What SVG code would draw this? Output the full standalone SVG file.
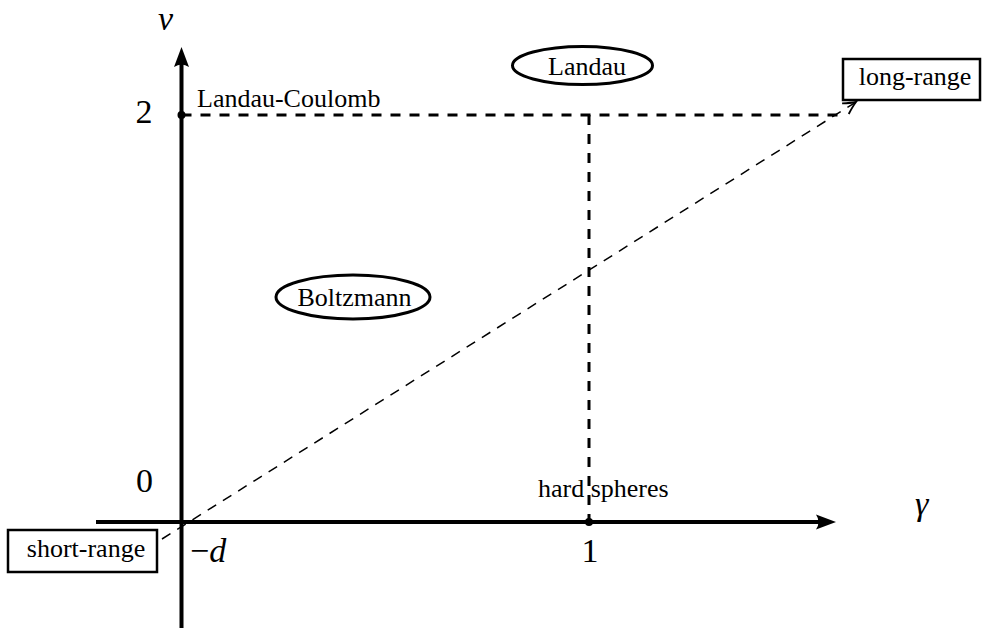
<svg xmlns="http://www.w3.org/2000/svg" width="982" height="628" viewBox="0 0 982 628">
<style>
.txt{font-family:"Liberation Serif","Times New Roman",serif;font-size:26px;fill:#000}
.math{font-family:"Liberation Serif","Times New Roman",serif;font-size:34px;fill:#000}
.it{font-style:italic}
.axis{stroke:#000;stroke-width:4;fill:none}
.thick-dash{stroke:#000;stroke-width:3;stroke-dasharray:10 9;fill:none}
.thin-dash{stroke:#000;stroke-width:1.5;stroke-dasharray:10 8;fill:none}
.box{fill:#fff;stroke:#000;stroke-width:2.5}
.ell{fill:#fff;stroke:#000;stroke-width:3}
</style>
<defs>
<marker id="open" markerUnits="userSpaceOnUse" markerWidth="20" markerHeight="20" refX="0" refY="0" viewBox="-12 -8 14 16" orient="auto">
<path d="M-10,-5 Q-4,-1.5 0,0 Q-4,1.5 -10,5" fill="none" stroke="#000" stroke-width="1.5"/>
</marker>
</defs>
<rect width="982" height="628" fill="#fff"/>
<g id="connectors">
<line class="thick-dash" x1="181.5" y1="115" x2="842" y2="115"/>
<line class="thick-dash" x1="589" y1="115" x2="589" y2="522"/>
<line class="thin-dash" x1="162" y1="539" x2="856" y2="102" marker-end="url(#open)"/>
</g>
<g id="axes">
<line class="axis" x1="181.5" y1="628" x2="181.5" y2="60"/>
<path d="M181.5,47 L189,67 Q181.5,62 174,67 Z" fill="#000"/>
<line class="axis" x1="96" y1="522" x2="822" y2="522"/>
<path d="M836,522 L816,514.5 Q821,522 816,529.5 Z" fill="#000"/>
<circle cx="181.5" cy="115" r="4" fill="#000"/>
<circle cx="589" cy="522" r="4" fill="#000"/>
<text class="math it" x="158" y="30">ν</text>
<text class="math it" x="915" y="515">γ</text>
<text class="math" x="144" y="123" text-anchor="middle">2</text>
<text class="math" x="144.5" y="492" text-anchor="middle">0</text>
<text class="math" x="590" y="562" text-anchor="middle">1</text>
<text class="math" x="190" y="562">−<tspan class="it">d</tspan></text>
</g>
<g id="landau-coulomb"><text class="txt" x="197" y="107">Landau-Coulomb</text></g>
<g id="hard-spheres"><text class="txt" x="538" y="497">hard spheres</text></g>
<g id="landau">
<ellipse class="ell" cx="582.5" cy="65.5" rx="70" ry="19"/>
<text class="txt" x="587" y="75" text-anchor="middle">Landau</text>
</g>
<g id="boltzmann">
<ellipse class="ell" cx="353" cy="297" rx="77" ry="22"/>
<text class="txt" x="354.5" y="306" text-anchor="middle">Boltzmann</text>
</g>
<g id="long-range">
<rect class="box" x="843" y="59" width="137" height="41"/>
<text class="txt" x="915" y="85" text-anchor="middle">long-range</text>
</g>
<g id="short-range">
<rect class="box" x="8" y="530" width="149" height="42"/>
<text class="txt" x="86" y="557" text-anchor="middle">short-range</text>
</g>
</svg>
